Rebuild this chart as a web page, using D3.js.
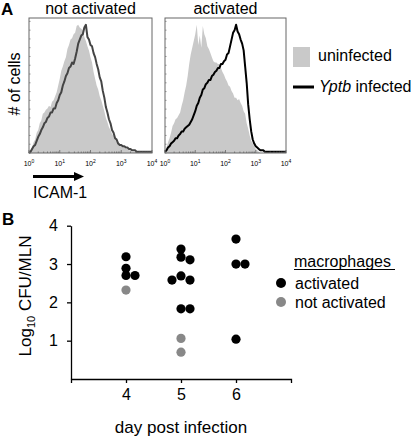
<!DOCTYPE html>
<html><head><meta charset="utf-8">
<script src="https://cdn.jsdelivr.net/npm/d3@7"></script>
<style>
html,body{margin:0;padding:0;background:#fff;}
svg{display:block;font-family:"Liberation Sans",Arial,Helvetica,sans-serif;}
</style></head>
<body>
<script>
// ---------- DATA ----------
// Histogram bins: log10(ICAM-1) from 0 to 4, step 0.05 (81 bins); heights as % of panel height
const binStep = 0.05;
const notActUninf = [0,2,4,8,10,15,17,22,24,29,30,32,33,35,34,38,39,42,45,50,55,61,64,68,71,77,80,84,85,88,89,94,95,93,92,91,86,83,79,76,71,67,60,55,50,47,42,39,35,31,26,23,19,17,14,13,11,10,8,7,6,5,4,3,3,2,2,1,1,1,1,1,0,0,0,0,0,0,0,0,0];
const notActInf   = [0,1,3,5,6,9,12,14,17,19,22,23,26,27,30,30,33,33,37,39,43,45,50,53,57,59,63,64,67,66,70,75,81,84,87,88,93,95,86,84,80,79,74,71,66,62,56,53,46,41,34,30,25,22,17,15,11,10,7,6,6,5,5,4,4,3,3,2,2,2,1,1,1,1,1,1,1,1,1,1,1];
const actUninf    = [0,4,8,11,15,20,22,25,26,28,30,35,39,45,50,57,66,73,78,83,88,95,80,87,78,94,88,85,79,77,74,71,68,67,67,66,66,63,60,58,55,53,50,49,46,44,41,41,39,40,37,35,31,29,22,18,13,9,7,5,3,2,1,0,0,0,0,0,0,0,0,0,0,0,0,0,0,0,0,0,0];
const actInf      = [1,2,4,5,7,8,9,11,11,13,14,16,16,18,19,20,21,23,25,28,31,35,37,41,43,47,48,51,52,54,54,57,58,60,61,63,63,66,66,68,69,73,74,79,84,89,91,95,90,88,84,81,76,64,52,36,25,16,10,7,5,4,3,2,2,2,1,1,1,1,1,1,1,1,1,1,1,1,1,1,1];
const histTicks = [1,10,100,1000,10000];
const histTickExp = ["0","1","2","3","4"];
const histTitles = ["not activated","activated"];
const histLegend = ["uninfected","Yptb infected"];

// Scatter: log10 CFU per MLN
const days = [4,5,6];
const activated = [
  [3.19,2.89,2.70,2.70],
  [3.39,3.18,3.11,2.69,2.58,2.58,1.83,1.83],
  [3.65,3.00,3.00,1.04]
];
const notActivated = [
  [2.32],
  [1.06,0.70],
  []
];
const yTicks = [1,2,3,4];
const groupNames = ["activated","not activated"];

// ---------- DRAW ----------
const W=414,H=441;
const svg=d3.select("body").append("svg").attr("width",W).attr("height",H);
const grayFill="#c9c9c9";

// Panel labels
svg.append("text").attr("x",1).attr("y",15).attr("font-size",17).attr("font-weight","bold").text("A");
svg.append("text").attr("x",2).attr("y",225).attr("font-size",17).attr("font-weight","bold").text("B");

function drawHist(bx0,bx1,title,grayData,lineData,lineColor){
  const by0=18,by1=153;
  const x=d3.scaleLog().domain([1,1e4]).range([bx0,bx1]);
  const y=d3.scaleLinear().domain([0,100]).range([by1,by0]);
  const g=svg.append("g");
  const pts=d=>d.map((v,i)=>[Math.pow(10,i*binStep),v]);
  g.append("path").datum(pts(grayData))
    .attr("d",d3.area().x(d=>x(d[0])).y0(y(0)).y1(d=>y(d[1])))
    .attr("fill",grayFill);
  g.append("path").datum(pts(lineData))
    .attr("d",d3.line().x(d=>x(d[0])).y(d=>y(d[1])))
    .attr("fill","none").attr("stroke",lineColor).attr("stroke-width",2).attr("stroke-linejoin","round");
  g.append("rect").attr("x",bx0).attr("y",by0).attr("width",bx1-bx0).attr("height",by1-by0)
    .attr("fill","none").attr("stroke","#666").attr("stroke-width",1);
  // minor log ticks on bottom
  const minor=[];
  for(let e=0;e<4;e++) for(let m=1;m<10;m++) minor.push(m*Math.pow(10,e));
  minor.push(1e4);
  g.selectAll("line.mt").data(minor).join("line")
    .attr("x1",d=>x(d)).attr("x2",d=>x(d))
    .attr("y1",by1).attr("y2",d=>histTicks.includes(d)?by1-3:by1-1.5)
    .attr("stroke","#666").attr("stroke-width",0.8);
  // y ticks on left edge
  g.selectAll("line.yt").data(d3.range(0,101,6.5)).join("line")
    .attr("x1",bx0).attr("x2",bx0+1.5).attr("y1",d=>y(d)).attr("y2",d=>y(d))
    .attr("stroke","#777").attr("stroke-width",0.8);
  // tick labels
  histTicks.forEach((t,i)=>{
    const tx=g.append("text").attr("x",x(t)).attr("y",166).attr("font-size",7).attr("text-anchor","middle");
    tx.append("tspan").text("10");
    tx.append("tspan").attr("dy",-3).attr("font-size",5).text(histTickExp[i]);
  });
  svg.append("text").attr("x",(bx0+bx1)/2).attr("y",14).attr("font-size",16)
    .attr("text-anchor","middle").text(title);
}
drawHist(29,152,histTitles[0],notActUninf,notActInf,"#444");
drawHist(165,286,histTitles[1],actUninf,actInf,"#000");

// # of cells
svg.append("text").attr("transform","translate(20,84) rotate(-90)").attr("font-size",16)
  .attr("text-anchor","middle").text("# of cells");
// ICAM-1 arrow
svg.append("line").attr("x1",33).attr("x2",76).attr("y1",176.5).attr("y2",176.5)
  .attr("stroke","#000").attr("stroke-width",3);
svg.append("path").attr("d","M74,172 L84,176.5 L74,181 Z").attr("fill","#000");
svg.append("text").attr("x",33).attr("y",198).attr("font-size",16).text("ICAM-1");

// Legend A
svg.append("rect").attr("x",293).attr("y",47).attr("width",17).attr("height",20).attr("fill",grayFill);
svg.append("text").attr("x",318).attr("y",61).attr("font-size",16).text(histLegend[0]);
svg.append("line").attr("x1",293).attr("x2",314).attr("y1",87).attr("y2",87).attr("stroke","#000").attr("stroke-width",3);
const yl=svg.append("text").attr("x",319).attr("y",92).attr("font-size",16);
yl.append("tspan").attr("font-style","italic").text(histLegend[1].split(" ")[0]);
yl.append("tspan").text(" "+histLegend[1].split(" ").slice(1).join(" "));

// ---------- Panel B ----------
const xB=d3.scaleLinear().domain([3,7]).range([71,291]);
const yB=d3.scaleLinear().domain([0,4]).range([379,225.7]);
const ax=svg.append("g").attr("transform","translate(0,379)")
  .call(d3.axisBottom(xB).tickValues(days).tickFormat(d3.format("d")).tickSize(4).tickSizeOuter(4).tickPadding(6));
ax.selectAll("text").attr("font-size",16).attr("font-family","Liberation Sans, Arial, sans-serif").attr("fill","#000");
const ay=svg.append("g").attr("transform","translate(71,0)")
  .call(d3.axisLeft(yB).tickValues(yTicks).tickFormat(d3.format("d")).tickSize(4).tickSizeOuter(0).tickPadding(9));
ay.selectAll("text").attr("font-size",16).attr("font-family","Liberation Sans, Arial, sans-serif").attr("fill","#000");
[ax,ay].forEach(a=>{a.selectAll("path,line").attr("stroke","#000").attr("stroke-width",1.3);});

svg.append("text").attr("x",181).attr("y",433).attr("font-size",17).attr("text-anchor","middle").text("day post infection");
const yt=svg.append("text").attr("transform","translate(31,296) rotate(-90)").attr("font-size",17).attr("text-anchor","middle");
yt.append("tspan").text("Log");
yt.append("tspan").attr("font-size",11).attr("dy",4).text("10");
yt.append("tspan").attr("dy",-4).text(" CFU/MLN");

// dodge layout
const r=4.6;
const pts=[];
days.forEach((d,i)=>{
  const all=activated[i].map(v=>({day:d,v,grp:0})).concat(notActivated[i].map(v=>({day:d,v,grp:1})));
  all.sort((a,b)=>b.v-a.v);
  const placed=[];
  all.forEach(p=>{
    const cx=xB(p.day), cy=yB(p.v);
    const offs=[0,9,-9,4.5,-4.5,18,-18];
    for(const o of offs){
      if(placed.every(q=>Math.hypot(q.x-(cx+o),q.y-cy)>=7)){p.x=cx+o;p.y=cy;break;}
    }
    placed.push(p);pts.push(p);
  });
});
const colors=["#000","#888"];
svg.selectAll("circle.pt").data(pts).join("circle")
  .attr("cx",d=>d.x).attr("cy",d=>d.y).attr("r",r).attr("fill",d=>colors[d.grp]);

// Legend B
svg.append("text").attr("x",294).attr("y",267).attr("font-size",16).text("macrophages");
svg.append("line").attr("x1",294).attr("x2",395).attr("y1",269.5).attr("y2",269.5).attr("stroke","#000").attr("stroke-width",1);
groupNames.forEach((n,i)=>{
  svg.append("circle").attr("cx",281).attr("cy",283+i*19).attr("r",5).attr("fill",colors[i]);
  svg.append("text").attr("x",295).attr("y",289+i*19).attr("font-size",16).text(n);
});
</script>
</body></html>
